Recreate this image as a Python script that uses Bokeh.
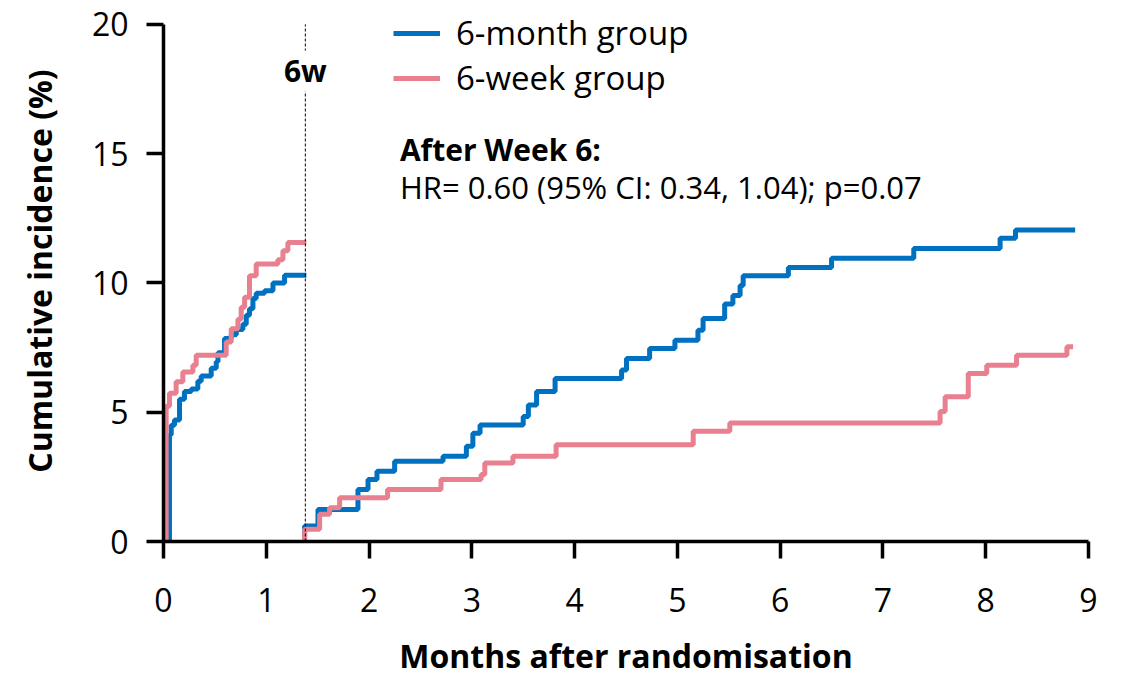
from bokeh.plotting import figure
from bokeh.models import Range1d, Legend, LegendItem, Label, FixedTicker
from bokeh.embed import file_html
from bokeh.resources import INLINE

# ---- data (months, cumulative incidence %) ----
early_6m_t = [0, 0.058, 0.075, 0.107, 0.156, 0.204, 0.27, 0.334, 0.367, 0.464, 0.513, 0.53,
              0.594, 0.659, 0.708, 0.772, 0.805, 0.837, 0.87, 0.902, 0.983, 1.065, 1.178, 1.39]
early_6m_v = [0, 4.13, 4.5, 4.7, 5.5, 5.8, 5.9, 6.2, 6.4, 6.7, 6.95, 7.3,
              7.85, 8.0, 8.2, 8.4, 8.75, 9.0, 9.4, 9.6, 9.7, 10.0, 10.3, 10.3]
early_6w_t = [0, 0.026, 0.058, 0.123, 0.188, 0.286, 0.318, 0.61, 0.659, 0.724, 0.756, 0.789,
              0.837, 0.902, 1.113, 1.162, 1.21, 1.39]
early_6w_v = [0, 5.23, 5.73, 6.18, 6.56, 6.82, 7.2, 7.72, 8.23, 8.6, 9.06, 9.45,
              10.28, 10.73, 10.9, 11.24, 11.56, 11.56]
late_6m_t = [1.373, 1.373, 1.503, 1.892, 1.99, 2.077, 2.249, 2.72, 2.947, 3.01, 3.08, 3.5, 3.55,
             3.63, 3.81, 4.457, 4.505, 4.73, 4.976, 5.2, 5.25, 5.46, 5.54, 5.61, 5.64, 6.08,
             6.5, 7.3, 8.14, 8.29, 8.87]
late_6m_v = [0, 0.6, 1.24, 2.01, 2.4, 2.72, 3.1, 3.3, 3.68, 4.19, 4.51, 4.83, 5.28,
             5.8, 6.3, 6.63, 7.08, 7.46, 7.78, 8.17, 8.62, 9.19, 9.51, 9.9, 10.28, 10.6,
             10.95, 11.33, 11.73, 12.05, 12.05]
late_6w_t = [1.373, 1.373, 1.519, 1.616, 1.714, 2.18, 2.70, 3.09, 3.126, 3.40, 3.82, 5.154,
             5.51, 7.556, 7.605, 7.83, 8.01, 8.30, 8.79, 8.85]
late_6w_v = [0, 0.47, 1.05, 1.31, 1.69, 2.01, 2.4, 2.59, 3.04, 3.3, 3.74, 4.26,
             4.58, 5.03, 5.6, 6.5, 6.82, 7.2, 7.53, 7.53]

series_names = ["6-month group", "6-week group"]
week6_month = 1.38
x_ticks = [0, 1, 2, 3, 4, 5, 6, 7, 8, 9]
y_ticks = [0, 5, 10, 15, 20]
y_max = 20
annot_title = "After Week 6:"
annot_text = "HR= 0.60 (95% CI: 0.34, 1.04); p=0.07"

BLUE = "#0070C0"
PINK = "#E8808F"
FONT = "Open Sans"

# frame reaches the canvas top so the legend is not clipped; axis bounded at 20
p = figure(width=1122, height=679, output_backend="svg", toolbar_location=None,
           x_range=Range1d(0, 9), y_range=Range1d(0, y_max + 24 / 26),
           min_border_left=163, min_border_right=34, min_border_top=0, min_border_bottom=135)
p.outline_line_color = None
p.grid.visible = False
p.background_fill_color = "white"
p.border_fill_color = "white"

r1 = p.step(early_6m_t, early_6m_v, mode="after", line_color=BLUE, line_width=5)
p.step(late_6m_t, late_6m_v, mode="after", line_color=BLUE, line_width=5)
r2 = p.step(early_6w_t, early_6w_v, mode="after", line_color=PINK, line_width=5)
p.step(late_6w_t, late_6w_v, mode="after", line_color=PINK, line_width=5)

p.segment(x0=[week6_month], y0=[0], x1=[week6_month], y1=[y_max], line_color="black",
          line_width=1, line_dash="3 2")
p.add_layout(Label(x=week6_month, y=18.2, text="6w", text_font=FONT, text_font_style="bold",
                   text_font_size="30px", text_align="center", text_baseline="middle",
                   text_color="black",
                   background_fill_color="white", background_fill_alpha=1.0))

p.add_layout(Label(x=2.30, y=15.15, text=annot_title, text_font=FONT, text_font_style="bold",
                   text_font_size="30px", text_baseline="middle", text_color="black"))
p.add_layout(Label(x=2.30, y=13.7, text=annot_text, text_font=FONT,
                   text_font_size="31px", text_baseline="middle", text_color="black"))

legend = Legend(items=[LegendItem(label=series_names[0], renderers=[r1]),
                       LegendItem(label=series_names[1], renderers=[r2])],
                location=(230, 441), orientation="vertical")
legend.label_text_font = FONT
legend.label_text_font_size = "33px"
legend.label_text_color = "black"
legend.glyph_width = 47
legend.glyph_height = 44
legend.label_height = 44
legend.spacing = 0
legend.padding = 0
legend.margin = 0
legend.label_standoff = 16
legend.border_line_color = None
legend.background_fill_alpha = 0
p.add_layout(legend)

for ax in (p.xaxis[0], p.yaxis[0]):
    ax.axis_line_width = 3.5
    ax.major_tick_line_width = 3.5
    ax.major_tick_out = 17
    ax.major_tick_in = 0
    ax.minor_tick_line_color = None
    ax.major_label_text_font = FONT
    ax.major_label_text_font_size = "32px"
    ax.major_label_text_color = "black"
    ax.axis_label_text_font = FONT
    ax.axis_label_text_font_style = "bold"
    ax.axis_label_text_font_size = "32px"
    ax.axis_label_text_color = "black"

p.xaxis[0].ticker = FixedTicker(ticks=x_ticks)
p.yaxis[0].ticker = FixedTicker(ticks=y_ticks)
p.yaxis[0].bounds = (0, y_max)
p.xaxis[0].axis_label = "Months after randomisation"
p.yaxis[0].axis_label = "Cumulative incidence (%)"
p.xaxis[0].major_label_standoff = 29
p.yaxis[0].major_label_standoff = 18
p.xaxis[0].axis_label_standoff = 19
p.yaxis[0].axis_label_standoff = 28

open("out.html", "w").write(file_html(p, INLINE))
